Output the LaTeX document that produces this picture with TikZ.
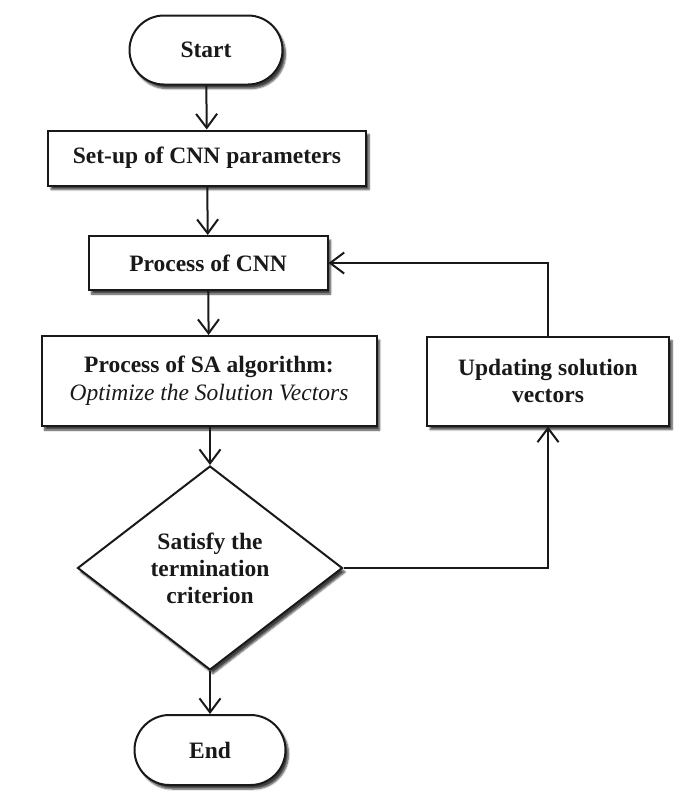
\documentclass[tikz,border=0pt]{standalone}
\usepackage{fontspec}
\setmainfont{Liberation Serif}
\usetikzlibrary{shapes.misc,shapes.geometric,arrows.meta,shadows.blur}
\begin{document}
\begin{tikzpicture}[x=1pt,y=-1pt,
  base/.style={draw=black!90, line width=2pt, fill=white,
    font=\fontsize{23.5}{27}\selectfont\bfseries, text=black!90,
    align=center, inner sep=0pt,
    blur shadow={shadow xshift=3pt, shadow yshift=-4pt, shadow blur steps=6, shadow opacity=75}},
  term/.style={base, rounded rectangle, minimum width=153pt, minimum height=69pt},
  proc/.style={base, rectangle},
  decis/.style={base, diamond, minimum width=265pt, minimum height=204pt, aspect=1.3},
  conn/.style={draw=black!90, line width=2pt, -{Straight Barb[length=14pt,width=21pt,line width=2pt]}}
]
\useasboundingbox (0,0) rectangle (694,798);

\node[term] (start) at (206,50) {Start};
\node[proc, minimum width=318pt, minimum height=55pt] (setup) at (207,158) {Set-up of CNN parameters};
\node[proc, minimum width=239pt, minimum height=54pt] (cnn) at (208,263) {Process of CNN};
\node[proc, minimum width=335pt, minimum height=90pt] (sa) at (209,381) {Process of SA algorithm:\\[1pt]{\mdseries\itshape Optimize the Solution Vectors}};
\node[decis] (dec) at (210,568) {Satisfy the\\termination\\criterion};
\node[term, minimum width=151pt, minimum height=70pt] (end) at (210,750) {End};
\node[proc, minimum width=242pt, minimum height=89pt] (upd) at (548,381) {Updating solution\\vectors};

\draw[conn] (start) -- (setup);
\draw[conn] (setup) -- (cnn);
\draw[conn] (cnn) -- (sa);
\draw[conn] (sa.south -| dec.north) -- (dec.north);
\draw[conn] (dec) -- (end);
\draw[conn] (dec.east) -| (upd.south);
\draw[conn] (upd.north) |- (cnn.east);
\end{tikzpicture}
\end{document}
